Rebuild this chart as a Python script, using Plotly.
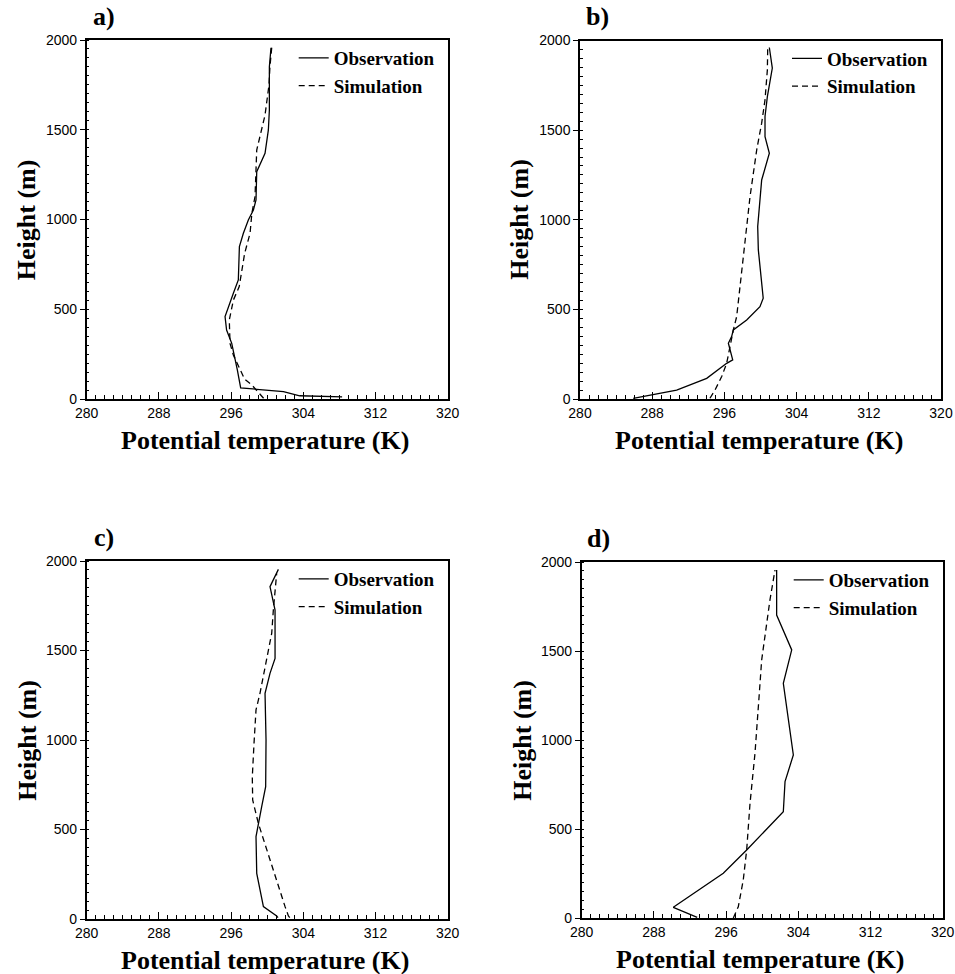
import plotly.graph_objects as go

# Potential temperature profiles (K) against height (m), four soundings
obs_a_t = [308.3, 303.6, 301.8, 297.06, 296.69, 296.44, 296.07, 295.5, 295.33, 296.25, 296.8,
           296.92, 297.36, 297.91, 298.47, 298.76, 298.84, 299.76, 300.13, 300.24, 300.24, 300.42]
obs_a_h = [12, 18, 41, 62, 162, 217, 310, 384, 459, 589, 663,
           849, 923, 997, 1053, 1109, 1266, 1369, 1499, 1610, 1851, 1957]
sim_a_t = [299.6, 298.8, 298.3, 297.5, 296.25, 295.88, 295.8, 296.25, 296.9, 297.5, 298.1,
           298.3, 298.65, 298.84, 299.76, 300.2, 300.3, 300.5]
sim_a_h = [4, 50, 78, 110, 245, 310, 440, 551, 626, 811, 923,
           1034, 1127, 1387, 1582, 1750, 1850, 1957]

obs_b_t = [285.9, 290.71, 294.04, 296.25, 296.92, 296.44, 296.8, 296.99, 298.47, 299.94, 300.3,
           299.94, 299.76, 299.69, 299.87, 300.13, 300.98, 300.5, 300.5, 300.76, 301.31, 300.98]
obs_b_h = [4, 50, 115, 199, 218, 311, 348, 385, 441, 515, 562,
           720, 832, 962, 1092, 1222, 1371, 1464, 1576, 1687, 1846, 1961]
sim_b_t = [294.4, 294.96, 295.7, 296.25, 296.99, 297.36, 297.73, 298.1, 298.47, 298.84,
           299.58, 300.13, 300.5, 300.76, 300.8]
sim_b_h = [4, 50, 125, 199, 385, 460, 627, 794, 980, 1129,
           1390, 1539, 1669, 1836, 1961]

obs_c_t = [301.2, 301.05, 299.58, 298.84, 298.76, 299.02, 299.39, 299.83, 299.87, 299.76,
           300.31, 300.87, 300.87, 300.31, 301.24]
obs_c_h = [8, 17, 69, 255, 460, 534, 628, 739, 1000, 1261,
           1372, 1456, 1726, 1857, 1953]
sim_c_t = [302.5, 302.35, 301.98, 301.05, 299.94, 299.02, 298.39, 298.35, 298.54, 298.76,
           299.2, 299.94, 300.5, 300.68, 300.87, 301.05]
sim_c_h = [8, 17, 69, 218, 385, 534, 665, 795, 981, 1168,
           1261, 1447, 1596, 1726, 1857, 1931]

obs_d_t = [292.8, 290.15, 295.69, 298.28, 302.34, 302.53, 303.45, 302.34, 303.27, 301.6, 301.6]
obs_d_h = [4, 60, 251, 382, 597, 766, 916, 1318, 1506, 1702, 1955]
sim_d_t = [296.8, 297.35, 297.9, 298.28, 298.65, 299.2, 299.68, 299.94, 300.86, 301.42]
sim_d_h = [0, 63, 213, 382, 644, 925, 1262, 1449, 1787, 1955]

panel_labels = ["a)", "b)", "c)", "d)"]
series_names = ["Observation", "Simulation"]
x_ticks = [280, 288, 296, 304, 312, 320]
y_ticks = [0, 500, 1000, 1500, 2000]

W, H = 955, 974
# panel boxes in pixels: left, right, top, bottom
boxes = [(86.7, 447.7, 40, 399), (580, 941, 40.5, 399),
         (86.7, 447.7, 561, 919), (581.7, 942.7, 562, 918)]
profiles = [(obs_a_t, obs_a_h, sim_a_t, sim_a_h), (obs_b_t, obs_b_h, sim_b_t, sim_b_h),
            (obs_c_t, obs_c_h, sim_c_t, sim_c_h), (obs_d_t, obs_d_h, sim_d_t, sim_d_h)]

serif = "Liberation Serif"
sans = "Liberation Sans"

fig = go.Figure()
layout = dict(width=W, height=H, margin=dict(l=0, r=0, t=0, b=0, autoexpand=False),
              paper_bgcolor="white", plot_bgcolor="white", showlegend=True,
              annotations=[])

for i, ((l, r, t, b), (ot, oh, st, sh)) in enumerate(zip(boxes, profiles)):
    sfx = "" if i == 0 else str(i + 1)
    leg = "legend" if i == 0 else f"legend{i + 1}"
    fig.add_trace(go.Scatter(x=ot, y=oh, mode="lines", name=f"<b>{series_names[0]}</b>",
                             line=dict(color="black", width=1.3),
                             xaxis="x" + sfx, yaxis="y" + sfx, legend=leg))
    fig.add_trace(go.Scatter(x=st, y=sh, mode="lines", name=f"<b>{series_names[1]}</b>",
                             line=dict(color="black", width=1.3, dash="6px,4px"),
                             xaxis="x" + sfx, yaxis="y" + sfx, legend=leg))
    axis_common = dict(showline=True, linecolor="black", linewidth=1.5, mirror=True,
                       showgrid=False, zeroline=False, automargin=False,
                       tickfont=dict(family=sans, size=14, color="black"))
    layout["xaxis" + sfx] = dict(axis_common, domain=[l / W, r / W], range=[280, 320],
                                 anchor="y" + sfx, tickvals=x_ticks,
                                 ticks="inside", ticklen=7, tickcolor="black",
                                 minor=dict(dtick=1, ticks="inside", ticklen=4,
                                            tickcolor="black", showgrid=False))
    layout["yaxis" + sfx] = dict(axis_common, domain=[1 - b / H, 1 - t / H], range=[0, 2000],
                                 anchor="x" + sfx, tickvals=y_ticks,
                                 ticks="outside", ticklen=5, tickcolor="black",
                                 minor=dict(dtick=50, ticks="inside", ticklen=3,
                                            tickcolor="black", showgrid=False))
    layout[leg] = dict(x=(r - 154) / W, y=1 - (t - 1) / H, xanchor="left", yanchor="top",
                       bgcolor="rgba(0,0,0,0)", borderwidth=0,
                       font=dict(family=serif, size=19, color="black"),
                       itemwidth=30, tracegroupgap=0)
    cx = (l + r) / 2
    layout["annotations"] += [
        dict(text=f"<b>{panel_labels[i]}</b>", x=(l + 17) / W, y=1 - (t - 24) / H,
             xref="paper", yref="paper", xanchor="center", yanchor="middle",
             showarrow=False, font=dict(family=serif, size=26, color="black")),
        dict(text="<b>Potential temperature (K)</b>", x=(cx - 2) / W, y=1 - (b + 41) / H,
             xref="paper", yref="paper", xanchor="center", yanchor="middle",
             showarrow=False, font=dict(family=serif, size=26, color="black")),
        dict(text="<b>Height (m)</b>", x=(l - 60) / W, y=1 - ((t + b) / 2) / H,
             xref="paper", yref="paper", xanchor="center", yanchor="middle",
             textangle=-90, showarrow=False,
             font=dict(family=serif, size=26, color="black")),
    ]

fig.update_layout(**layout)
fig.write_html("out.html")
